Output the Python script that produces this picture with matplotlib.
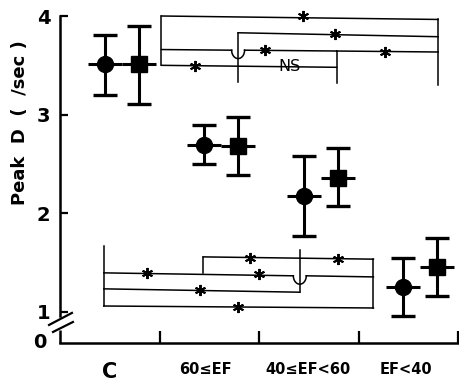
import numpy as np
import matplotlib.pyplot as plt

# groups along the x axis
groups = ['C', '60≤EF', '40≤EF<60', 'EF<40']

# peak D (/sec): mean and upper / lower error limits
circle_mean = [3.51, 2.69, 2.18, 1.25]
circle_hi = [3.81, 2.89, 2.58, 1.55]
circle_lo = [3.20, 2.50, 1.77, 0.96]

square_mean = [3.51, 2.68, 2.36, 1.46]
square_hi = [3.90, 2.98, 2.66, 1.75]
square_lo = [3.11, 2.39, 2.07, 1.16]

# significance brackets: (x0, y0, x1, y1, hop_x) horizontal runs,
# (x, y_top, y_bottom) stubs, star / NS positions
top_runs = [
    (1.02, 4.000, 3.80, 3.965, None),
    (1.79, 3.830, 3.80, 3.790, None),
    (1.02, 3.660, 2.78, 3.645, 1.79),
    (2.78, 3.645, 3.80, 3.635, None),
    (1.02, 3.500, 2.78, 3.480, None),
]
top_stubs = [(1.02, 4.000, 3.50), (1.79, 3.83, 3.33),
             (2.78, 3.645, 3.32), (3.80, 3.965, 3.30)]
top_stars = [(2.44, 4.00), (2.76, 3.815), (2.06, 3.655),
             (3.27, 3.64), (1.36, 3.495)]

bottom_runs = [
    (0.44, 1.396, 3.15, 1.355, 2.41),
    (1.44, 1.558, 3.15, 1.535, None),
    (0.44, 1.234, 2.41, 1.200, None),
    (0.44, 1.060, 3.15, 1.040, None),
]
bottom_stubs = [(0.44, 1.67, 1.06), (1.44, 1.558, 1.396),
                (2.41, 1.63, 1.20), (3.15, 1.535, 1.04)]
bottom_stars = [(0.87, 1.39), (2.00, 1.385), (1.91, 1.55),
                (2.79, 1.54), (1.41, 1.22), (1.79, 1.05)]

pos = np.arange(len(groups))
circle_x = pos + 0.45
square_x = pos + 0.79

fig = plt.figure(figsize=(4.59, 3.84), dpi=100)
ax = fig.add_axes([60/459, 41/384, 398/459, 327/384])
ax.set_xlim(0, 4)
ax.set_ylim(0.685, 4.0)

bar_kw = dict(color='black', elinewidth=2.2, capsize=8.5, capthick=2.4,
              zorder=3)
for x, m, hi, lo, mk in [(circle_x, circle_mean, circle_hi, circle_lo, 'o'),
                         (square_x, square_mean, square_hi, square_lo, 's')]:
    m = np.array(m)
    yerr = [m - np.array(lo), np.array(hi) - m]
    ax.errorbar(x, m, yerr=yerr, fmt=mk, ms=11.5, **bar_kw)
    ax.errorbar(x, m, xerr=0.17, fmt='none', color='black',
                elinewidth=2.2, capsize=0, zorder=3)

line_kw = dict(color='black', lw=1.1, clip_on=False)


def draw_run(x0, y0, x1, y1, hop):
    if hop is None:
        ax.plot([x0, x1], [y0, y1], **line_kw)
        return
    r, d = 0.065, 0.085
    yh = y0 + (y1 - y0) * (hop - x0) / (x1 - x0)
    ax.plot([x0, hop - r], [y0, yh], **line_kw)
    t = np.linspace(0, np.pi, 30)
    ax.plot(hop - r*np.cos(t), yh - d*np.sin(t), **line_kw)
    ax.plot([hop + r, x1], [yh, y1], **line_kw)


for run in top_runs + bottom_runs:
    draw_run(*run)
for x, yt, yb in top_stubs + bottom_stubs:
    ax.plot([x, x], [yt, yb], **line_kw)

sx, sy = zip(*(top_stars + bottom_stars))
ax.plot(sx, sy, ls='none', marker=(6, 2, 0), ms=8, mew=1.4,
        color='black', clip_on=False, zorder=4)
ax.text(2.31, 3.485, 'NS', ha='center', va='center', fontsize=11.5,
        color='black')

# axes with a break between 0 and 1
for side in ['top', 'right']:
    ax.spines[side].set_visible(False)
ax.spines['left'].set_bounds(0.96, 4.0)
ax.spines['left'].set_linewidth(1.8)
ax.spines['bottom'].set_linewidth(1.8)
ax.plot([0, 0], [0.685, 0.817], color='black', lw=1.8, clip_on=False,
        solid_capstyle='butt')
ax.plot([-0.11, 0.12], [0.868, 0.99], color='black', lw=1.6, clip_on=False)
ax.plot([-0.07, 0.13], [0.797, 0.898], color='black', lw=1.6, clip_on=False)

ax.set_yticks([1, 2, 3, 4])
ax.set_yticklabels(['1', '2', '3', '4'], fontsize=14, fontweight='bold')
ax.tick_params(axis='y', direction='in', length=6, width=1.6, pad=7)
ax.text(-0.2, 0.685, '0', ha='center', va='center', fontsize=14,
        fontweight='bold')

ax.set_xticks([1, 2, 3, 4])
ax.set_xticklabels([])
ax.tick_params(axis='x', which='major', direction='in', length=9, width=1.6)
ax.set_xticks([0.5, 1.46, 2.49, 3.48], minor=True)
ax.set_xticklabels(groups, minor=True, fontweight='bold')
ax.tick_params(axis='x', which='minor', length=0, pad=14)
for i, lab in enumerate(ax.get_xticklabels(minor=True)):
    lab.set_fontsize(15 if i == 0 else 10.5)

fig.text(20/459, 1 - 123/384, 'Peak  D  (  /sec )', rotation=90,
         ha='center', va='center', fontsize=13, fontweight='bold')

fig.savefig('out.png', dpi=100)
